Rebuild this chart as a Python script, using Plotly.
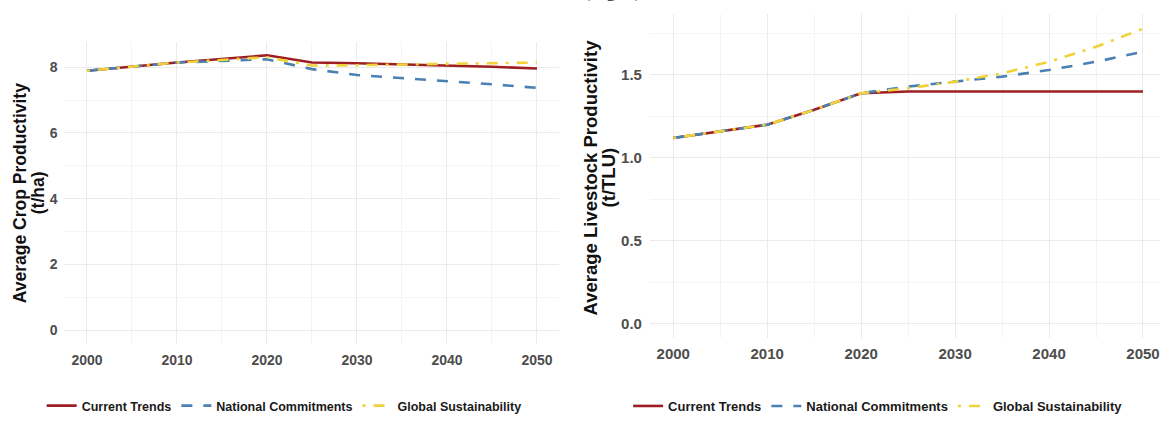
import plotly.graph_objects as go

# ---- data -------------------------------------------------------------
scenarios = ["Current Trends", "National Commitments", "Global Sustainability"]

crop_years = [2000, 2010, 2020, 2025, 2030, 2035, 2040, 2045, 2050]
crop_current = [7.89, 8.14, 8.36, 8.14, 8.12, 8.09, 8.05, 8.01, 7.96]
crop_national = [7.89, 8.14, 8.24, 7.94, 7.76, 7.67, 7.58, 7.48, 7.37]
crop_global = [7.89, 8.14, 8.30, 8.05, 8.06, 8.08, 8.10, 8.12, 8.14]

live_years = [2000, 2010, 2015, 2020, 2025, 2030, 2035, 2040, 2045, 2050]
live_current = [1.12, 1.20, 1.29, 1.39, 1.40, 1.40, 1.40, 1.40, 1.40, 1.40]
live_national = [1.12, 1.20, 1.29, 1.39, 1.43, 1.46, 1.49, 1.53, 1.58, 1.64]
live_global = [1.12, 1.20, 1.29, 1.39, 1.42, 1.46, 1.51, 1.58, 1.67, 1.78]

x_ticks = [2000, 2010, 2020, 2030, 2040, 2050]
crop_ticks = [0, 2, 4, 6, 8]
live_ticks = [0.0, 0.5, 1.0, 1.5]

crop_title = ["Average Crop Productivity", "(t/ha)"]
live_title = ["Average Livestock Productivity", "(t/TLU)"]

# ---- styles -----------------------------------------------------------
colors = {"Current Trends": "#9E1F23",
          "National Commitments": "#4A80B2",
          "Global Sustainability": "#F0D23A"}
dashes = {"Current Trends": "solid",
          "National Commitments": "11px,11px",
          "Global Sustainability": "3px,8px,11px,8px"}
LW = 2.6

fig = go.Figure()

panels = [
    ("x", "y", "legend", crop_years, [crop_current, crop_national, crop_global]),
    ("x2", "y2", "legend2", live_years, [live_current, live_national, live_global]),
]
for xa, ya, leg, yrs, series in panels:
    for name, vals in zip(scenarios, series):
        fig.add_trace(go.Scatter(
            x=yrs, y=vals, mode="lines", name=name,
            line=dict(color=colors[name], width=LW, dash=dashes[name]),
            xaxis=xa, yaxis=ya, legend=leg, showlegend=True,
        ))

grid_major = "#EBEBEB"
grid_minor = "#F4F4F4"
tick_font = dict(family="Liberation Sans, Arial", size=13, color="#4D4D4D", weight="bold")

def xaxis(domain, rng, size, anchor, standoff):
    return dict(domain=domain, range=rng, tickvals=x_ticks, showgrid=True,
                gridcolor=grid_major, gridwidth=1, zeroline=False, showline=False,
                ticks="", tickfont=dict(tick_font, size=size), ticklabelstandoff=standoff,
                minor=dict(dtick=5, tick0=2000, showgrid=True, gridcolor=grid_minor, gridwidth=1),
                anchor=anchor, fixedrange=True)

def yaxis(domain, rng, ticks, minor_step, fmt, size, anchor, standoff):
    return dict(domain=domain, range=rng, tickvals=ticks, tickformat=fmt,
                showgrid=True, gridcolor=grid_major, gridwidth=1, zeroline=False,
                showline=False, ticks="", tickfont=dict(tick_font, size=size),
                ticklabelstandoff=standoff,
                minor=dict(dtick=minor_step, tick0=0, showgrid=True, gridcolor=grid_minor, gridwidth=1),
                anchor=anchor, fixedrange=True)

legend_common = dict(orientation="h", xanchor="center", yanchor="middle",
                     itemwidth=30, bgcolor="rgba(0,0,0,0)",
                     font=dict(family="Liberation Sans, Arial", size=12.5, color="#1A1A1A", weight="bold"))

fig.update_layout(
    width=1160, height=421,
    margin=dict(l=0, r=0, t=0, b=0),
    paper_bgcolor="white", plot_bgcolor="white",
    showlegend=True,
    xaxis=xaxis([0.0556, 0.4823], [1997.5, 2052.5], 14, "y", 6),
    yaxis=yaxis([0.171, 0.900], [-0.42, 8.78], crop_ticks, 1, "d", 14, "x", 6),
    xaxis2=xaxis([0.5603, 1.0], [1997.52, 2051.81], 15, "y2", 5),
    yaxis2=yaxis([0.185, 0.967], [-0.089, 1.87], live_ticks, 0.25, ".1f", 15, "x2", 7),
    legend=dict(legend_common, x=0.245, y=0.021),
    legend2=dict(legend_common, x=0.757, y=0.021, font=dict(legend_common["font"], size=13)),
)

# rotated two-line axis titles, each line placed on its own for tight line spacing
title_font = dict(family="Liberation Sans, Arial", size=17.5, color="#111111", weight="bold")
for text, xpx, ymid, size in [(crop_title[0], 20, 196, 17.5), (crop_title[1], 38, 196, 17.5),
                              (live_title[0], 590, 180, 18.5), (live_title[1], 608, 180, 18.5)]:
    fig.add_annotation(text=text, xref="paper", yref="paper",
                       x=xpx / 1160, y=(421 - ymid) / 421, xanchor="center", yanchor="middle",
                       textangle=-90, showarrow=False, font=dict(title_font, size=size))

# figure label running off the top edge
fig.add_annotation(text="(Fig. d)", xref="paper", yref="paper", x=612 / 1160, y=1,
                   xanchor="center", yanchor="bottom", yshift=-4, showarrow=False,
                   font=dict(family="Liberation Serif", size=19, color="#222222"))

fig.write_html("out.html")
